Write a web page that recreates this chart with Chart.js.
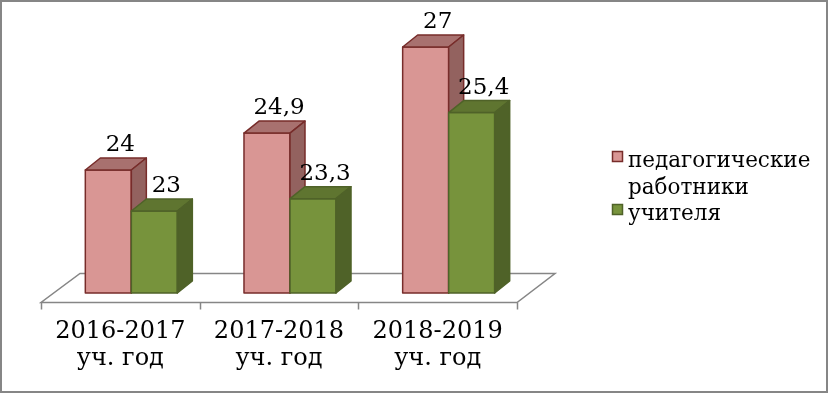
<!DOCTYPE html>
<html lang="ru">
<head>
    <meta charset="UTF-8">
    <title>Педагогические работники и учителя</title>
    <script src="https://cdn.jsdelivr.net/npm/chart.js"></script>
    <style>
        body { margin: 0; background: #fff; }
        #wrap { width: 828px; height: 393px; }
    </style>
</head>
<body>
    <div id="wrap"><canvas id="chartStaff" width="828" height="393"></canvas></div>

    <script>
        // данные с диаграммы
        const categories = [['2016-2017', 'уч. год'], ['2017-2018', 'уч. год'], ['2018-2019', 'уч. год']];
        const seriesNames = [['педагогические', 'работники'], ['учителя']];
        const pedagogValues = [24, 24.9, 27];
        const teacherValues = [23, 23.3, 25.4];

        const FONT = '"DejaVu Serif", "Liberation Serif", serif';
        const DX = 15, DY = 12; // глубина "3D"

        // цвета граней: фронт, верх, бок, контур
        const faces = [
            { front: '#d99694', top: '#a8716f', side: '#93625f', line: '#772c2a' },
            { front: '#77933c', top: '#5f7530', side: '#4f6228', line: '#4f6228' }
        ];

        function fmt(v) {
            return String(v).replace('.', ',');
        }

        const frame = {
            id: 'frame',
            beforeDraw(chart) {
                const ctx = chart.ctx;
                ctx.save();
                ctx.fillStyle = '#fff';
                ctx.fillRect(0, 0, chart.width, chart.height);
                ctx.strokeStyle = '#868686';
                ctx.lineWidth = 2;
                ctx.strokeRect(1, 1, chart.width - 2, chart.height - 2);
                ctx.restore();
            }
        };

        const bars3d = {
            id: 'bars3d',
            beforeDatasetsDraw(chart) {
                // "пол" диаграммы
                const { ctx, chartArea: a, scales } = chart;
                const x = scales.x;
                const step = x.getPixelForValue(1) - x.getPixelForValue(0);
                const fy = a.bottom + 9.5, by = a.bottom - 19.5;
                ctx.save();
                ctx.strokeStyle = '#868686';
                ctx.lineWidth = 1.5;
                ctx.beginPath();
                ctx.moveTo(a.left - 11, fy);
                ctx.lineTo(a.right - 11, fy);
                ctx.lineTo(a.right + 27, by);
                ctx.lineTo(a.left + 28, by);
                ctx.closePath();
                ctx.stroke();
                // засечки на переднем крае
                for (let i = 0; i <= categories.length; i++) {
                    const tx = Math.round(x.getPixelForValue(i) - step / 2 - 11) + 0.5;
                    ctx.beginPath();
                    ctx.moveTo(tx, fy);
                    ctx.lineTo(tx, fy + 7);
                    ctx.stroke();
                }
                ctx.restore();
            },
            beforeDatasetDraw() {
                return false; // столбики рисуем сами
            },
            afterDatasetsDraw(chart) {
                const ctx = chart.ctx;
                const b = chart.chartArea.bottom;
                ctx.save();
                ctx.lineWidth = 1.5;
                ctx.lineJoin = 'round';
                for (let i = 0; i < categories.length; i++) {
                    chart.data.datasets.forEach((ds, d) => {
                        const bar = chart.getDatasetMeta(d).data[i];
                        const c = faces[d];
                        const l = bar.x - bar.width / 2, r = bar.x + bar.width / 2;
                        const t = bar.y;
                        ctx.strokeStyle = c.line;
                        // фронт
                        ctx.fillStyle = c.front;
                        ctx.fillRect(l, t, r - l, b - t);
                        ctx.strokeRect(l, t, r - l, b - t);
                        // верх
                        ctx.fillStyle = c.top;
                        ctx.beginPath();
                        ctx.moveTo(l, t);
                        ctx.lineTo(l + DX, t - DY);
                        ctx.lineTo(r + DX, t - DY);
                        ctx.lineTo(r, t);
                        ctx.closePath();
                        ctx.fill();
                        ctx.stroke();
                        // бок
                        ctx.fillStyle = c.side;
                        ctx.beginPath();
                        ctx.moveTo(r, t);
                        ctx.lineTo(r + DX, t - DY);
                        ctx.lineTo(r + DX, b - DY);
                        ctx.lineTo(r, b);
                        ctx.closePath();
                        ctx.fill();
                        ctx.stroke();
                    });
                }
                // подписи значений
                ctx.fillStyle = '#000';
                ctx.font = '23px ' + FONT;
                ctx.textAlign = 'center';
                ctx.textBaseline = 'alphabetic';
                chart.data.datasets.forEach((ds, d) => {
                    chart.getDatasetMeta(d).data.forEach((bar, i) => {
                        ctx.fillText(fmt(ds.data[i]), bar.x + 12, bar.y - DY - 7);
                    });
                });
                ctx.restore();
            },
            afterDraw(chart) {
                // легенда справа
                const ctx = chart.ctx;
                ctx.save();
                ctx.font = '21.5px ' + FONT;
                ctx.textBaseline = 'alphabetic';
                let y = 167;
                seriesNames.forEach((lines, d) => {
                    ctx.fillStyle = faces[d].front;
                    ctx.fillRect(612.5, y - 15.5, 10, 10);
                    ctx.strokeStyle = faces[d].line;
                    ctx.lineWidth = 1.5;
                    ctx.strokeRect(612.5, y - 15.5, 10, 10);
                    ctx.fillStyle = '#000';
                    lines.forEach(line => {
                        ctx.fillText(line, 628, y);
                        y += 26.5;
                    });
                });
                ctx.restore();
            }
        };

        new Chart(document.getElementById('chartStaff'), {
            type: 'bar',
            data: {
                labels: categories,
                datasets: [
                    { label: seriesNames[0].join(' '), data: pedagogValues, backgroundColor: faces[0].front },
                    { label: seriesNames[1].join(' '), data: teacherValues, backgroundColor: faces[1].front }
                ]
            },
            options: {
                responsive: false,
                animation: false,
                categoryPercentage: 0.58,
                barPercentage: 1,
                layout: { padding: { top: 6, left: 52, right: 300, bottom: 0 } },
                plugins: {
                    legend: { display: false },
                    tooltip: { enabled: false }
                },
                scales: {
                    y: { display: false, min: 21, max: 28 },
                    x: {
                        grid: { display: false, drawTicks: false },
                        border: { display: false },
                        afterFit: (scale) => { scale.height = 100; },
                        ticks: {
                            color: '#000',
                            labelOffset: -11,
                            padding: 25,
                            font: { family: FONT, size: 24, lineHeight: 1.12 }
                        }
                    }
                }
            },
            plugins: [frame, bars3d]
        });
    </script>
</body>
</html>
